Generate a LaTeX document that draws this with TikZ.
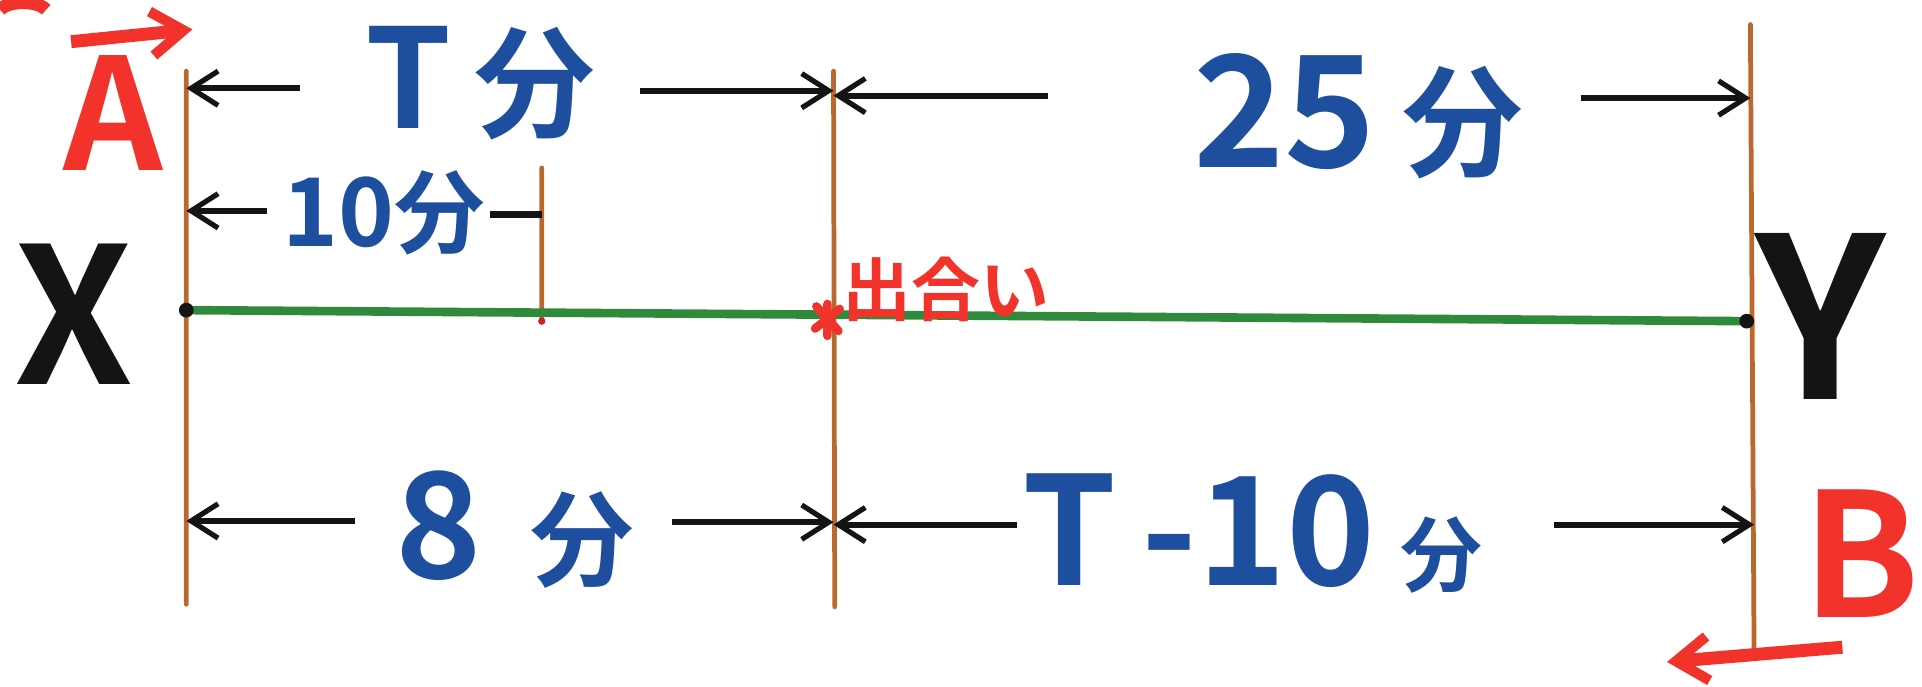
\documentclass[tikz,border=0pt]{standalone}
\usepackage{fontspec}
\newfontfamily\cjk[BoldFont={Noto Sans CJK JP Bold}]{Noto Sans CJK JP}
\usetikzlibrary{arrows.meta,calc}
\definecolor{ink}{HTML}{141414}
\definecolor{penblue}{HTML}{1D4F9E}
\definecolor{hot}{HTML}{F2332B}
\definecolor{rod}{HTML}{B9682E}
\definecolor{road}{HTML}{2F8A3C}

\begin{document}
\begin{tikzpicture}[x=0.01cm,y=-0.01cm,
      rodline/.style={rod,line width=1.1pt,line cap=round},
      dim/.style={ink,line width=1.4pt,-{Straight Barb[length=2.2mm,width=2.8mm,line width=1.2pt]}},
      lbl/.style={penblue,font=\cjk\bfseries\fontsize{30}{30}\selectfont,inner sep=0pt},
      big/.style={ink,font=\cjk\bfseries\fontsize{44}{44}\selectfont,inner sep=0pt},
      who/.style={hot,font=\cjk\bfseries\fontsize{36}{36}\selectfont,inner sep=0pt},
      redarrow/.style={hot,line width=3pt,-{Straight Barb[length=2.6mm,width=3.6mm,line width=2.4pt]}}]
    \useasboundingbox (0,0) rectangle (1568,560);
    % vertical marks
    \coordinate (xa) at (152,58);   \coordinate (xb) at (152,493);
    \coordinate (ma) at (680,58);   \coordinate (mb) at (681,495);
    \coordinate (ya) at (1428,20);  \coordinate (yb) at (1431,530);
    \coordinate (sa) at (442,137);  \coordinate (sb) at (442,262);
    \draw[rodline] (xa) -- (xb) (ma) -- (mb) (ya) -- (yb) (sa) -- (sb);
    % road X -- Y
    \coordinate (X) at (152,253); \coordinate (Y) at (1425,262);
    \coordinate (meet) at (675,260);
    \draw[road,line width=2pt] (X) -- (Y);
    \fill[ink] (X) circle (6) (Y) circle (6);
    \fill[hot!80!black] (sb) circle (3);
    \draw[hot,line width=2pt,line cap=round] ($(meet)+(-9,-10)$) -- ($(meet)+(9,10)$)
      ($(meet)+(-10,8)$) -- ($(meet)+(10,-8)$) ($(meet)+(0,-12)$) -- ($(meet)+(0,14)$);
    \node[big] (lx) at (60,256) {X};
    \node[big,font=\cjk\bfseries\fontsize{52}{52}\selectfont] (ly) at (1485,258) {Y};
    \node[who] (la) at (92,92) {A};
    \node[who,font=\cjk\bfseries\fontsize{40}{40}\selectfont] (lb) at (1518,452) {B};
    \node[hot,font=\cjk\bfseries\fontsize{16}{16}\selectfont,inner sep=0pt] (lm) at (772,236) {出合い};
    \coordinate (aa) at (58,34); \coordinate (ab) at (157,24);
    \coordinate (ba) at (1503,528); \coordinate (bb) at (1360,540);
    \draw[redarrow] (aa) -- (ab);
    \draw[redarrow] (ba) -- (bb);
    \draw[hot,line width=3pt] (0,8) arc (200:340:20 and 9);
    % labels
    \node[lbl,font=\cjk\bfseries\fontsize{32}{32}\selectfont] (tT) at (392,68) {T\,{\fontsize{28}{28}\selectfont 分}};
    \node[lbl,font=\cjk\bfseries\fontsize{36}{36}\selectfont] (t25) at (1108,95) {25\,{\fontsize{28}{28}\selectfont 分}};
    \node[lbl,font=\cjk\bfseries\fontsize{22}{22}\selectfont] (t10) at (313,174) {10{\fontsize{21}{21}\selectfont 分}};
    \node[lbl,font=\cjk\bfseries\fontsize{34}{34}\selectfont] (t8) at (420,432) {8\,\,{\fontsize{24}{24}\selectfont 分}};
    \node[lbl,font=\cjk\bfseries\fontsize{35}{35}\selectfont] (tT10) at (1022,435) {T\,-10\,{\fontsize{19}{19}\selectfont 分}};
    % dimension arrows
    \coordinate (p1) at (245,72);  \draw[dim] (p1) -- (p1 -| xa);
    \coordinate (p2) at (522,74);  \draw[dim] (p2) -- (p2 -| ma);
    \coordinate (p3) at (855,78);  \draw[dim] (p3) -- (p3 -| ma);
    \coordinate (p4) at (1290,80); \draw[dim] (p4) -- (p4 -| ya);
    \coordinate (p5) at (218,172); \draw[dim] (p5) -- (p5 -| xa);
    \coordinate (p6) at (400,175); \draw[ink,line width=1.6pt] (p6) -- (p6 -| sa);
    \coordinate (p7) at (290,425); \draw[dim] (p7) -- (p7 -| xa);
    \coordinate (p8) at (548,426); \draw[dim] (p8) -- (p8 -| ma);
    \coordinate (p9) at (830,428); \draw[dim] (p9) -- (p9 -| ma);
    \coordinate (p10) at (1268,428); \draw[dim] (p10) -- (p10 -| yb);
  \end{tikzpicture}
\end{document}
